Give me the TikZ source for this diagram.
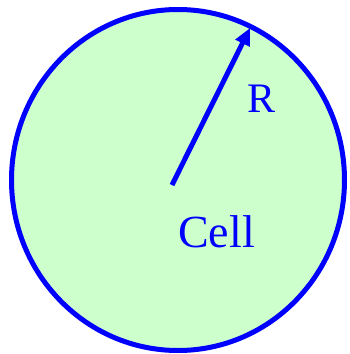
\documentclass[tikz,border=0pt]{standalone}
\usepackage{fontspec}
\setmainfont{Liberation Serif}
\usetikzlibrary{arrows.meta}
\definecolor{cellfill}{HTML}{CCFFCC}
\definecolor{cellblue}{HTML}{0000FF}
\tikzset{every picture/.style={
    every path/.style={line width=5pt},
}}
\tikzset{lbl/.style = {text=cellblue, inner sep=0, anchor=base}}

\begin{document}
\begin{tikzpicture}[x=1pt,y=-1pt]
      \useasboundingbox (0,0) rectangle (350,354);

      \draw[cellblue, fill=cellfill] (178,180) ellipse [x radius=166.5, y radius=170.5];

      \coordinate (ctr) at (172,185);
      \coordinate (rim) at (250,28);
      \draw[cellblue, -{Triangle[length=17pt,width=15pt]}] (ctr) -- (rim);

      \node[lbl, font=\fontsize{42}{42}\selectfont] (rlabel) at (262,112) {R};
      \node[lbl, font=\fontsize{46}{46}\selectfont] (cell) at (216.5,247) {Cell};
  \end{tikzpicture}
\end{document}
